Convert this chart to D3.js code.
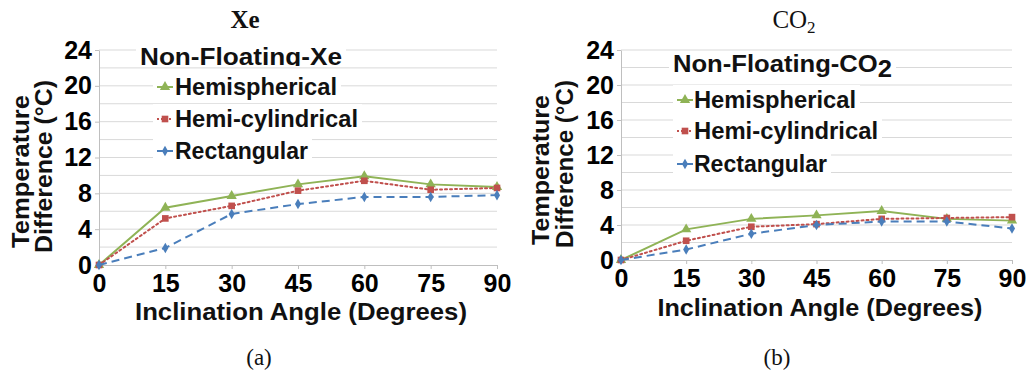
<!DOCTYPE html>
<html>
<head>
<meta charset="utf-8">
<script src="https://cdn.jsdelivr.net/npm/d3@7"></script>
<style>
  body { margin: 0; background: #fff; }
  svg { display: block; }
</style>
</head>
<body>
<svg id="chart" width="1030" height="374"></svg>
<script>
// --- data ---
const angles = [0, 15, 30, 45, 60, 75, 90];
const yTicks = [0, 4, 8, 12, 16, 20, 24];
const seriesNames = ["Hemispherical", "Hemi-cylindrical", "Rectangular"];

const xeHemi = [0, 6.4, 7.7, 9.0, 9.9, 9.0, 8.7];
const xeCyl  = [0, 5.2, 6.6, 8.3, 9.4, 8.4, 8.6];
const xeRect = [0, 1.9, 5.7, 6.8, 7.6, 7.6, 7.8];

const co2Hemi = [0, 3.5, 4.7, 5.1, 5.6, 4.7, 4.5];
const co2Cyl  = [0, 2.2, 3.8, 4.1, 4.7, 4.8, 4.9];
const co2Rect = [0, 1.2, 3.0, 4.0, 4.4, 4.4, 3.6];

const SANS  = "'Liberation Sans', Arial, sans-serif";
const SERIF = "'Liberation Serif', 'Times New Roman', serif";

// line style per series: green solid/triangle, red dotted/square, blue dashed/diamond
const styles = [
  { color: "#8fb356", dash: null,  symbol: d3.symbolTriangle, size: 46 },
  { color: "#c0504d", dash: "2,3", symbol: d3.symbolSquare,   size: 44 },
  { color: "#4a7ebb", dash: "8,5", symbol: d3.symbolDiamond,  size: 32 }
];

const svg = d3.select("#chart");

const panels = [
  {
    id: "a", x0: 99, x1: 497, yTop: 50, yBot: 265,
    values: [xeHemi, xeCyl, xeRect],
    title: "Xe", titleX: 245, titleBold: true, caption: "(a)", captionX: 259,
    yTitle: [{ text: "Temperature", x: 29, y: 171.5, w: 153 },
             { text: "Difference (°C)", x: 52, y: 166.5, w: 173 }],
    xTitle: { x: 301, y: 320, w: 332 },
    legend: { titleX: 140, titleY: 65, titleW: 202, clip: true, lx: 157, tx: 175,
              rows: [95, 127, 159], widths: [162, 183, 133] }
  },
  {
    id: "b", x0: 621, x1: 1012, yTop: 50, yBot: 260,
    values: [co2Hemi, co2Cyl, co2Rect],
    title: "CO", titleX: 794, titleBold: false, caption: "(b)", captionX: 777,
    yTitle: [{ text: "Temperature", x: 549, y: 170, w: 150 },
             { text: "Difference (°C)", x: 573, y: 164, w: 168 }],
    xTitle: { x: 820, y: 316, w: 325 },
    legend: { titleX: 673, titleY: 72, titleW: 219, clip: false, lx: 677, tx: 694,
              rows: [108, 139, 172], widths: [162, 184, 133] }
  }
];

panels.forEach(drawPanel);

function drawPanel(p) {
  const g = svg.append("g");
  const x = d3.scaleLinear().domain([0, 90]).range([p.x0, p.x1]);
  const y = d3.scaleLinear().domain([0, 24]).range([p.yBot, p.yTop]);

  // gridlines every 2 units
  g.append("g")
    .selectAll("line")
    .data(d3.range(2, 25, 2))
    .join("line")
    .attr("x1", p.x0).attr("x2", p.x1)
    .attr("y1", d => y(d)).attr("y2", d => y(d))
    .attr("stroke", "#d9d9d9")
    .attr("stroke-width", 1);

  // y axis
  const ya = g.append("g")
    .attr("transform", `translate(${p.x0},0)`)
    .call(d3.axisLeft(y).tickValues(yTicks).tickSize(4).tickSizeOuter(0).tickPadding(3));
  ya.select(".domain").attr("stroke", "#bfbfbf");
  ya.selectAll(".tick line").attr("stroke", "#bfbfbf");
  ya.selectAll("text")
    .attr("font-family", SANS).attr("font-size", 25)
    .attr("font-weight", "bold").attr("fill", "#000");

  // x axis
  const xa = g.append("g")
    .attr("transform", `translate(0,${p.yBot})`)
    .call(d3.axisBottom(x).tickValues(angles).tickSize(4).tickSizeOuter(0).tickPadding(5));
  xa.select(".domain").attr("stroke", "#bfbfbf");
  xa.selectAll(".tick line").attr("stroke", "#bfbfbf");
  xa.selectAll("text")
    .attr("font-family", SANS).attr("font-size", 25)
    .attr("font-weight", "bold").attr("fill", "#000");

  // series lines + markers
  const line = d3.line().x((d, i) => x(angles[i])).y(d => y(d));
  p.values.forEach((vals, k) => {
    const s = styles[k];
    g.append("path")
      .datum(vals)
      .attr("d", line)
      .attr("fill", "none")
      .attr("stroke", s.color)
      .attr("stroke-width", 2)
      .attr("stroke-dasharray", s.dash)
      .attr("stroke-linecap", s.dash === "2,3" ? "round" : "butt");
    g.append("g")
      .selectAll("path")
      .data(vals)
      .join("path")
      .attr("transform", (d, i) => `translate(${x(angles[i])},${y(d)})`)
      .attr("d", d3.symbol().type(s.symbol).size(s.size))
      .attr("fill", s.color);
  });

  // legend (white boxes over the grid)
  const L = p.legend;
  const lg = g.append("g");
  const titleBottom = L.clip ? L.titleY + 1 : L.titleY + 8;
  lg.append("rect")
    .attr("x", L.titleX - 4).attr("y", L.titleY - 20)
    .attr("width", L.titleW + 8).attr("height", titleBottom - (L.titleY - 20))
    .attr("fill", "#fff");
  if (L.clip) {
    svg.append("clipPath").attr("id", "clip-" + p.id)
      .append("rect")
      .attr("x", L.titleX - 4).attr("y", L.titleY - 20)
      .attr("width", L.titleW + 8).attr("height", titleBottom - (L.titleY - 20));
  }
  const lt = lg.append("text")
    .attr("x", L.titleX).attr("y", L.titleY)
    .attr("font-family", SANS).attr("font-size", 23).attr("font-weight", "bold")
    .attr("fill", "#111")
    .attr("clip-path", L.clip ? `url(#clip-${p.id})` : null);
  if (p.id === "a") {
    lt.text("Non-Floating-Xe")
      .attr("textLength", L.titleW).attr("lengthAdjust", "spacingAndGlyphs");
  } else {
    lt.append("tspan").text("Non-Floating-CO");
    lt.append("tspan").attr("dy", 5).text("2");
    lt.attr("textLength", L.titleW).attr("lengthAdjust", "spacingAndGlyphs");
  }

  seriesNames.forEach((name, k) => {
    const s = styles[k];
    const by = L.rows[k];
    const ly = by - 8;
    lg.append("rect")
      .attr("x", L.lx - 4).attr("y", by - 23)
      .attr("width", L.tx + L.widths[k] + 4 - (L.lx - 4)).attr("height", 31)
      .attr("fill", "#fff");
    lg.append("line")
      .attr("x1", L.lx).attr("x2", L.lx + 16)
      .attr("y1", ly).attr("y2", ly)
      .attr("stroke", s.color).attr("stroke-width", 2)
      .attr("stroke-dasharray", s.dash === "2,3" ? "2,2" : null);
    lg.append("path")
      .attr("transform", `translate(${L.lx + 8},${ly})`)
      .attr("d", d3.symbol().type(s.symbol).size(s.size))
      .attr("fill", s.color);
    lg.append("text")
      .attr("x", L.tx).attr("y", by)
      .attr("font-family", SANS).attr("font-size", 24).attr("font-weight", "bold")
      .attr("fill", "#111")
      .attr("textLength", L.widths[k]).attr("lengthAdjust", "spacingAndGlyphs")
      .text(name);
  });

  // axis titles
  g.append("text")
    .attr("x", p.xTitle.x).attr("y", p.xTitle.y)
    .attr("text-anchor", "middle")
    .attr("font-family", SANS).attr("font-size", 24).attr("font-weight", "bold")
    .attr("fill", "#111")
    .attr("textLength", p.xTitle.w).attr("lengthAdjust", "spacingAndGlyphs")
    .text("Inclination Angle (Degrees)");

  p.yTitle.forEach(t => {
    g.append("text")
      .attr("transform", `translate(${t.x},${t.y}) rotate(-90)`)
      .attr("text-anchor", "middle")
      .attr("font-family", SANS).attr("font-size", 24).attr("font-weight", "bold")
      .attr("fill", "#111")
      .attr("textLength", t.w).attr("lengthAdjust", "spacingAndGlyphs")
      .text(t.text);
  });

  // chart title
  const tt = g.append("text")
    .attr("x", p.titleX).attr("y", 28)
    .attr("text-anchor", "middle")
    .attr("font-family", SERIF).attr("font-size", 25)
    .attr("font-weight", p.titleBold ? "bold" : "normal")
    .attr("fill", "#111");
  tt.append("tspan").text(p.title);
  if (p.id === "b") tt.append("tspan").attr("dy", 5).attr("font-size", 17).text("2");

  // caption
  g.append("text")
    .attr("x", p.captionX).attr("y", 365)
    .attr("text-anchor", "middle")
    .attr("font-family", SERIF).attr("font-size", 23)
    .attr("fill", "#111")
    .text(p.caption);
}
</script>
</body>
</html>
